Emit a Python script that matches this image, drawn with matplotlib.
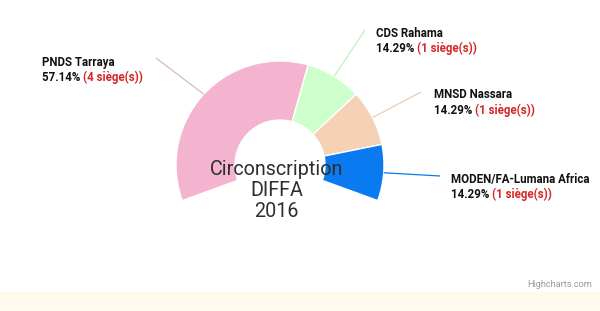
import matplotlib
matplotlib.use("Agg")
import matplotlib.pyplot as plt
from matplotlib.patches import Rectangle
import numpy as np

parties = ["PNDS Tarraya", "CDS Rahama", "MNSD Nassara", "MODEN/FA-Lumana Africa"]
seats = [4, 1, 1, 1]
percent_labels = ["57.14%", "14.29%", "14.29%", "14.29%"]
colors = ["#F4B4CF", "#CCFFCC", "#F5D1B6", "#0A7AF0"]
connector_colors = ["#D9B8C6", "#C4EEC4", "#EBCDB8", "#0A7AF0"]
center_title = "Circonscription\nDIFFA\n2016"

W, H = 600, 311
fig = plt.figure(figsize=(W / 100, H / 100), dpi=100)
ax = fig.add_axes([0, 0, 1, 1])
ax.set_facecolor("white")

def Y(y):
    return H - y

cx, cy = 280, Y(165)
R_out, R_in = 104, 45
span = 220.0
start = 200.0
total = sum(seats)
fracs = [s / total * span / 360.0 for s in seats]

wedges, _ = ax.pie(fracs, colors=colors, startangle=start, counterclock=False,
                   normalize=False, radius=R_out, center=(cx, cy),
                   wedgeprops=dict(width=R_out - R_in, edgecolor="white", linewidth=1))

# bottom band
ax.add_patch(Rectangle((0, 0), W, Y(292), color="#FFFAEB", zorder=0, lw=0))

# labels: (x, baseline of first line) in pixel coords, connector start
label_pos = [(41.7, 65.7), (375.7, 36.7), (434, 98.3), (450.7, 182.7)]
conn_start = [(156, 58), (365, 30), (421, 92), (440, 176)]
line_gap = 15.3

font = dict(family=["Roboto", "DejaVu Sans"], fontsize=8.3, fontweight="bold")
for i, w in enumerate(wedges):
    mid = np.deg2rad((w.theta1 + w.theta2) / 2)
    ex = cx + R_out * np.cos(mid)
    ey = cy + R_out * np.sin(mid)
    sx, sy = conn_start[i]
    ax.plot([sx, ex], [Y(sy), ey], color=connector_colors[i], lw=0.9, zorder=1,
            solid_capstyle="butt")
    lx, ly = label_pos[i]
    ax.text(lx, Y(ly), parties[i], color="#111111", va="baseline", ha="left", **font)
    t = ax.text(lx, Y(ly + line_gap), percent_labels[i] + " ", color="#111111",
                va="baseline", ha="left", **font)
    ax.annotate("(%d siège(s))" % seats[i], xy=(1, Y(ly + line_gap)),
                xycoords=(t, "data"), color="#D42626", va="baseline", ha="left", **font)

ax.text(276.7, Y(216.7), center_title, ha="center", va="baseline",
        fontsize=14.2, color="#2E2E2E", family=["Roboto", "DejaVu Sans"],
        linespacing=1.13, zorder=5, multialignment="center")

ax.text(592.5, Y(287), "Highcharts.com", ha="right", va="baseline",
        fontsize=6.6, color="#999999", family=["Roboto", "DejaVu Sans"])

ax.set_xlim(0, W)
ax.set_ylim(0, H)
ax.set_aspect("equal")
ax.axis("off")
fig.savefig("out.png", dpi=100, facecolor="white")
